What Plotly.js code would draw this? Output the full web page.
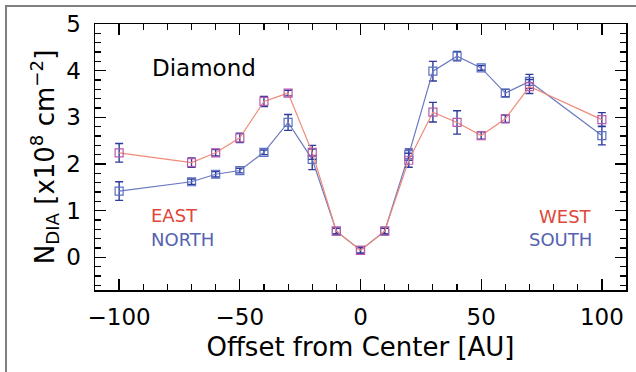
<!DOCTYPE html>
<html>
<head>
<meta charset="utf-8">
<script src="https://cdn.plot.ly/plotly-3.0.1.min.js"></script>
<style>
html,body{margin:0;padding:0;background:#fff;}
#chart{width:636px;height:372px;}
</style>
</head>
<body>
<div id="chart"></div>
<script>
// Offset from center [AU]
const offsets = [-100, -70, -60, -50, -40, -30, -20, -10, 0, 10, 20, 30, 40, 50, 60, 70, 100];
// EAST (left) / WEST (right) series
const eastWest = [2.24, 2.03, 2.24, 2.56, 3.34, 3.52, 2.25, 0.56, 0.15, 0.56, 2.08, 3.11, 2.89, 2.61, 2.97, 3.66, 2.95];
const eastWestErr = [0.2, 0.1, 0.07, 0.1, 0.11, 0.06, 0.15, 0.06, 0.06, 0.06, 0.15, 0.21, 0.25, 0.08, 0.08, 0.15, 0.15];
// NORTH (left) / SOUTH (right) series
const northSouth = [1.42, 1.62, 1.78, 1.86, 2.25, 2.89, 2.1, 0.56, 0.15, 0.56, 2.2, 3.99, 4.31, 4.06, 3.52, 3.77, 2.61];
const northSouthErr = [0.2, 0.06, 0.06, 0.05, 0.05, 0.17, 0.22, 0.06, 0.06, 0.06, 0.12, 0.21, 0.1, 0.05, 0.08, 0.15, 0.2];
// axis ticks
const xTickVals = [-100, -50, 0, 50, 100];
const xTickText = ['\u2212100', '\u221250', '0', '50', '100'];
const yTickVals = [0, 1, 2, 3, 4, 5];

const errColor = '#2f3a9c';
const FONT = 'DejaVu Sans, Liberation Sans, sans-serif';

const traces = [
  {
    x: offsets, y: northSouth, type: 'scatter', mode: 'lines+markers',
    line: {color: '#6a78bf', width: 1.2},
    marker: {symbol: 'square-open', size: 8, color: '#5a70c4', line: {width: 1.2}},
    error_y: {type: 'data', array: northSouthErr, visible: true, color: errColor, thickness: 1.4, width: 4},
    showlegend: false
  },
  {
    x: offsets, y: eastWest, type: 'scatter', mode: 'lines+markers',
    line: {color: '#f08a78', width: 1.2},
    marker: {symbol: 'square-open', size: 8, color: '#b85aa8', line: {width: 1.2}},
    error_y: {type: 'data', array: eastWestErr, visible: true, color: errColor, thickness: 1.4, width: 4},
    showlegend: false
  },
  // invisible carrier trace for the mirrored (top/right) tick axes
  {
    x: offsets, y: eastWest, type: 'scatter', mode: 'markers', xaxis: 'x2', yaxis: 'y2',
    marker: {opacity: 0}, hoverinfo: 'skip', showlegend: false
  }
];

const pw = 531, ph = 266, ml = 95, mt = 24;
function px2x(p){ return (p - ml) / pw; }
function py2y(p){ return (mt + ph - p) / ph; }

const tickCommon = {ticks: 'inside', ticklen: 11, tickwidth: 1.3, tickcolor: '#000', showgrid: false, zeroline: false};

const layout = {
  width: 636, height: 372,
  margin: {l: ml, r: 636 - ml - pw, t: mt, b: 372 - mt - ph, pad: 0},
  paper_bgcolor: '#fff', plot_bgcolor: '#fff',
  font: {family: FONT, color: '#000'},
  xaxis: Object.assign({}, tickCommon, {
    range: [-110, 110], tickvals: xTickVals, ticktext: xTickText,
    minor: {dtick: 10, tick0: 0, ticks: 'inside', ticklen: 6, tickwidth: 1.1, tickcolor: '#000', showgrid: false},
    showline: true, linecolor: '#000', linewidth: 1.5, mirror: true,
    tickfont: {size: 23, family: FONT}, ticklabelstandoff: 6,
    title: {text: 'Offset from Center [AU]', font: {size: 26, family: FONT}, standoff: 8}
  }),
  yaxis: Object.assign({}, tickCommon, {
    range: [-0.7, 5], tickvals: yTickVals,
    minor: {dtick: 0.2, tick0: 0, ticks: 'inside', ticklen: 6, tickwidth: 1.1, tickcolor: '#000', showgrid: false},
    showline: true, linecolor: '#000', linewidth: 1.5, mirror: true,
    tickfont: {size: 23, family: FONT}, ticklabelstandoff: 8,
    title: {text: 'N<sub>DIA</sub> [x10<sup>8</sup> cm<sup>\u22122</sup>]', font: {size: 26, family: FONT}, standoff: 4}
  }),
  xaxis2: Object.assign({}, tickCommon, {
    overlaying: 'x', side: 'top', anchor: 'y2', range: [-110, 110], tickvals: xTickVals,
    showticklabels: false, showline: false,
    minor: {dtick: 10, tick0: 0, ticks: 'inside', ticklen: 6, tickwidth: 1.1, tickcolor: '#000', showgrid: false}
  }),
  yaxis2: Object.assign({}, tickCommon, {
    overlaying: 'y', side: 'right', anchor: 'x2', range: [-0.7, 5], tickvals: yTickVals,
    showticklabels: false, showline: false,
    minor: {dtick: 0.2, tick0: 0, ticks: 'inside', ticklen: 6, tickwidth: 1.1, tickcolor: '#000', showgrid: false}
  }),
  annotations: [
    {xref: 'paper', yref: 'paper', x: px2x(150), y: py2y(68), xanchor: 'left', yanchor: 'middle',
     text: 'Diamond', showarrow: false, font: {size: 23, family: FONT, color: '#000'}},
    {xref: 'paper', yref: 'paper', x: px2x(149), y: py2y(215), xanchor: 'left', yanchor: 'middle',
     text: 'EAST', showarrow: false, font: {size: 18, family: FONT, color: '#e0473a'}},
    {xref: 'paper', yref: 'paper', x: px2x(149), y: py2y(239), xanchor: 'left', yanchor: 'middle',
     text: 'NORTH', showarrow: false, font: {size: 18, family: FONT, color: '#5562b0'}},
    {xref: 'paper', yref: 'paper', x: px2x(594), y: py2y(216), xanchor: 'right', yanchor: 'middle',
     text: 'WEST', showarrow: false, font: {size: 18, family: FONT, color: '#e0473a'}},
    {xref: 'paper', yref: 'paper', x: px2x(594), y: py2y(239), xanchor: 'right', yanchor: 'middle',
     text: 'SOUTH', showarrow: false, font: {size: 18, family: FONT, color: '#5562b0'}}
  ],
  shapes: [
    {type: 'line', xref: 'paper', yref: 'paper', x0: px2x(6), x1: px2x(6), y0: py2y(5), y1: py2y(380),
     line: {color: '#808080', width: 2}},
    {type: 'line', xref: 'paper', yref: 'paper', x0: px2x(5), x1: px2x(645), y0: py2y(6), y1: py2y(6),
     line: {color: '#808080', width: 2}}
  ]
};

Plotly.newPlot('chart', traces, layout, {staticPlot: true, displayModeBar: false});
</script>
</body>
</html>
